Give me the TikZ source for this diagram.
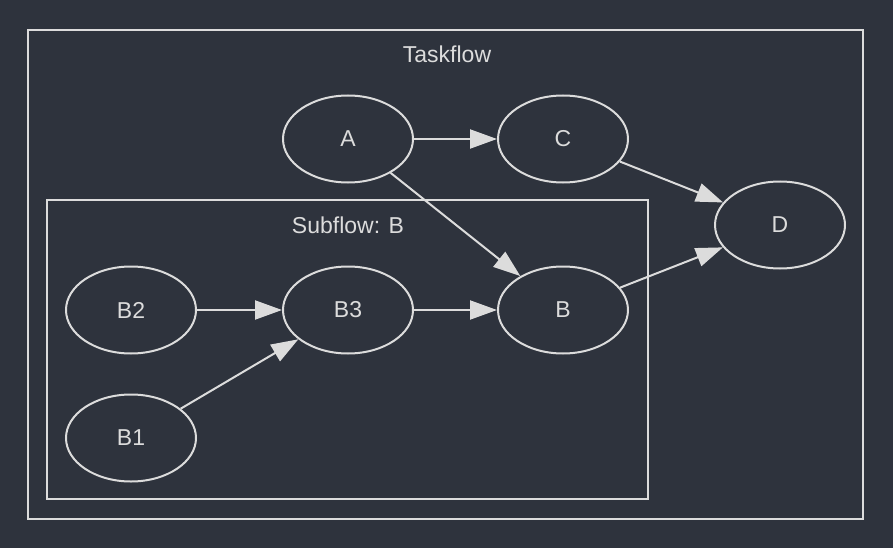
\documentclass[tikz,border=0pt]{standalone}
\usepackage{fontspec}
\setmainfont{Liberation Sans}
\usetikzlibrary{shapes.geometric,arrows.meta}
\definecolor{bgc}{HTML}{2E333D}
\definecolor{fgc}{HTML}{DCDCDC}
\begin{document}
\begin{tikzpicture}[x=1pt,y=-1pt,
  task/.style={ellipse,draw=fgc,line width=2pt,minimum width=130pt,minimum height=87pt,inner sep=0pt,text=fgc,font=\fontsize{23}{26}\selectfont},
  edge/.style={draw=fgc,line width=2pt,-{Triangle[length=27pt,width=19pt]}},
  frame/.style={draw=fgc,line width=2pt},
  lbl/.style={text=fgc,font=\fontsize{23}{26}\selectfont}]
\fill[bgc] (0,0) rectangle (893,548);
\useasboundingbox (0,0) rectangle (893,548);
\draw[frame] (28,30) rectangle (863,519);
\node[lbl] (t1) at (447,54) {Taskflow};
\draw[frame] (47,200) rectangle (648,499);
\node[lbl] (t2) at (348,225) {Subflow: B};
\node[task] (A) at (348,139) {A};
\node[task] (C) at (563,139) {C};
\node[task] (D) at (780,225) {D};
\node[task] (B2) at (131,310) {B2};
\node[task] (B3) at (348,310) {B3};
\node[task] (B) at (563,310) {B};
\node[task] (B1) at (131,438) {B1};
\draw[edge] (A) -- (C);
\draw[edge] (A) -- (B);
\draw[edge] (C) -- (D);
\draw[edge] (B) -- (D);
\draw[edge] (B2) -- (B3);
\draw[edge] (B3) -- (B);
\draw[edge] (B1) -- (B3);
\end{tikzpicture}
\end{document}
